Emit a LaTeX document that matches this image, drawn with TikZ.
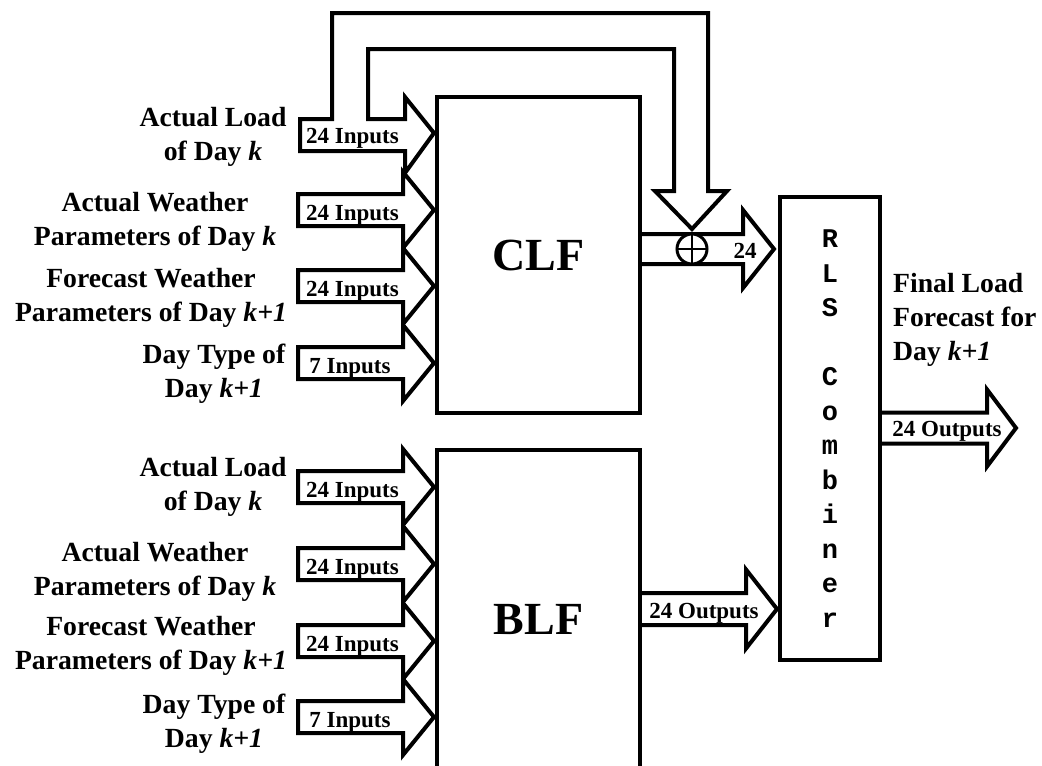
\documentclass[tikz,border=0pt]{standalone}
\usepackage{fontspec}
\setmainfont{Liberation Serif}
\newfontfamily\rlsfont{Liberation Mono}
\usetikzlibrary{calc}
% right-pointing block arrow: #1 tip, #2 shaft length, #3 half shaft, #4 half head, #5 head length
\newcommand\rblock[5]{%
  \draw[blk] (#1) -- ++(-#5,-#4) -- ++(0,{#4-#3}) -- ++(-#2,0) -- ++(0,{2*#3})
    -- ++(#2,0) -- ++(0,{#4-#3}) -- cycle;}
% same, but open at the tail (tail sits on a block edge)
\newcommand\oblock[5]{%
  \draw[blk] ($(#1)+(-#5-#2,-#3)$) -- ++(#2,0) -- ++(0,{#3-#4}) -- (#1)
    -- ++(-#5,#4) -- ++(0,{#3-#4}) -- ++(-#2,0);}
\begin{document}
\begin{tikzpicture}[x=1pt,y=-1pt,
  blk/.style={draw,line width=4pt,line join=miter},
  box/.style={draw,line width=4pt,rectangle,inner sep=0pt},
  lab/.style={font=\fontsize{27.7}{34}\selectfont\bfseries,align=center,anchor=base,inner sep=0pt},
  num/.style={font=\fontsize{23}{23}\selectfont\bfseries,anchor=base,inner sep=0pt},
  big/.style={font=\fontsize{46}{46}\selectfont\bfseries}]
\useasboundingbox (0,0) rectangle (1042,766);
\clip (0,0) rectangle (1042,766);

% blocks
\node[box,big,minimum width=203pt,minimum height=316pt] (CLF) at (538.5,255) {CLF};
\node[box,big,minimum width=203pt,minimum height=338pt] (BLF) at (538.5,619) {BLF};
\node[box,minimum width=100pt,minimum height=463pt,align=center,
      font=\rlsfont\bfseries\fontsize{27}{34.5}\selectfont] (RLS) at (830,428.5)
      {R\\L\\S\\~\\C\\o\\m\\b\\i\\n\\e\\r};

% input arrow tips
\coordinate (c1) at ($(CLF.north west)+(-1,38)$);
\coordinate (c2) at ($(CLF.north west)+(-1,115)$);
\coordinate (c3) at ($(CLF.north west)+(-1,191)$);
\coordinate (c4) at ($(CLF.north west)+(-1,268)$);
\coordinate (b1) at ($(BLF.north west)+(-1,39)$);
\coordinate (b2) at ($(BLF.north west)+(-1,116)$);
\coordinate (b3) at ($(BLF.north west)+(-1,193)$);
\coordinate (b4) at ($(BLF.north west)+(-1,269)$);

% first CLF input with the feedback branch to the sum
\draw[blk] (c1) -- (405,97) -- (405,119) -- (368,119) -- (368,49) -- (674,49) -- (674,191)
  -- (655,191) -- (692,229) -- (727,191) -- (708,191) -- (708,13) -- (332,13) -- (332,119)
  -- (300,119) -- (300,151) -- (405,151) -- (405,173) -- cycle;
\rblock{c2}{105}{16}{38}{31}
\rblock{c3}{105}{16}{38}{31}
\rblock{c4}{105}{16}{38}{31}
\rblock{b1}{105}{16}{38}{31}
\rblock{b2}{105}{16}{38}{31}
\rblock{b3}{105}{16}{38}{31}
\rblock{b4}{105}{16}{38}{31}

% outputs
\coordinate (o1) at ($(RLS.west |- CLF.east)+(-4,-6)$);
\coordinate (o2) at (777,609);
\coordinate (o3) at (1016,428);
\oblock{o1}{105}{15}{39}{31}
\oblock{o2}{106}{16}{39.5}{31}
\oblock{o3}{107}{15.5}{38.5}{29}

% summing junction
\node[circle,draw,fill=white,line width=3pt,minimum size=30pt,inner sep=0pt,outer sep=0pt] (sum) at (692,249) {};
\draw[line width=2.5pt] (sum.north) -- (sum.south) (sum.west) -- (sum.east);

% arrow labels
\node[num] (n1) at (352.5,143) {24 Inputs};
\node[num] (n2) at (352.5,220) {24 Inputs};
\node[num] (n3) at (352.5,296) {24 Inputs};
\node[num] (n4) at (350,373) {7 Inputs};
\node[num] (m1) at (352.5,497) {24 Inputs};
\node[num] (m2) at (352.5,574) {24 Inputs};
\node[num] (m3) at (352.5,651) {24 Inputs};
\node[num] (m4) at (350,727) {7 Inputs};
\node[num] (s24) at (745,258) {24};
\node[num] (bo) at (704,618) {24 Outputs};
\node[num] (fo) at (947,436) {24 Outputs};

% input descriptions (anchor = baseline of the last line)
\node[lab] (l1) at (213,160) {Actual Load\\of Day \textit{k}};
\node[lab] (l2) at (155,245) {Actual Weather\\Parameters of Day \textit{k}};
\node[lab] (l3) at (151,321) {Forecast Weather\\Parameters of Day \textit{k+1}};
\node[lab] (l4) at (214,397) {Day Type of\\Day \textit{k+1}};
\node[lab] (k1) at (213,510) {Actual Load\\of Day \textit{k}};
\node[lab] (k2) at (155,595) {Actual Weather\\Parameters of Day \textit{k}};
\node[lab] (k3) at (151,669) {Forecast Weather\\Parameters of Day \textit{k+1}};
\node[lab] (k4) at (214,747) {Day Type of\\Day \textit{k+1}};
\node[lab,align=left,anchor=base west] (fin) at (893,360) {Final Load\\Forecast for\\Day \textit{k+1}};
\end{tikzpicture}
\end{document}
